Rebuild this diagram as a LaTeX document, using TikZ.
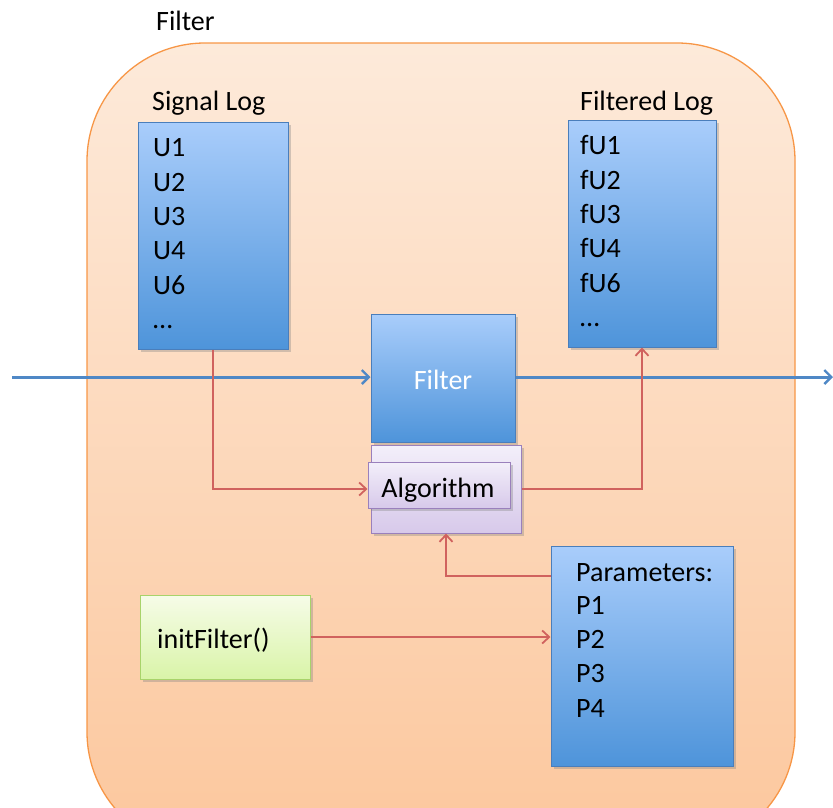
\documentclass[tikz,border=0pt]{standalone}
\usepackage{fontspec}
\setmainfont{Carlito}
\usetikzlibrary{arrows.meta,shadows,positioning}
\definecolor{bluetop}{HTML}{A9CDFB}
\definecolor{bluebot}{HTML}{4E94DA}
\definecolor{blueedge}{HTML}{4A7EBB}
\definecolor{peachtop}{HTML}{FDEADA}
\definecolor{peachbot}{HTML}{FCC79D}
\definecolor{peachedge}{HTML}{F79646}
\definecolor{redline}{HTML}{D0625E}
\definecolor{bluelineC}{HTML}{4F88C6}
\definecolor{lavtop}{HTML}{F3EFFA}
\definecolor{lavbot}{HTML}{D7C9EA}
\definecolor{lavedge}{HTML}{9A80BC}
\definecolor{greentop}{HTML}{F6FCE8}
\definecolor{greenbot}{HTML}{D9F4A8}
\definecolor{greenedge}{HTML}{A8D36A}
\tikzset{
  bigfont/.style={font=\fontsize{28}{32}\selectfont},
  txt/.style={bigfont, inner sep=0pt, anchor=base west},
  bluebox/.style={draw=blueedge, line width=1pt, top color=bluetop, bottom color=bluebot,
    drop shadow={shadow xshift=2.5pt, shadow yshift=-2.5pt, opacity=0.35}},
  lavbox/.style={draw=lavedge, line width=1pt, top color=lavtop, bottom color=lavbot,
    drop shadow={shadow xshift=2.5pt, shadow yshift=-2.5pt, opacity=0.35}},
  greenbox/.style={draw=greenedge, line width=1pt, top color=greentop, bottom color=greenbot,
    drop shadow={shadow xshift=2.5pt, shadow yshift=-2.5pt, opacity=0.35}},
  redarrow/.style={draw=redline, line width=1.4pt, -{Straight Barb[length=7pt,width=13pt,line width=1.8pt]}},
  bluearrow/.style={draw=bluelineC, line width=3pt, -{Straight Barb[length=7pt,width=14pt,line width=2.4pt]}},
}
\begin{document}
\begin{tikzpicture}[x=1pt,y=-1pt]
\useasboundingbox (0,0) rectangle (833,807);
\begin{scope}
\clip (0,0) rectangle (833,807);
\path[draw=peachedge, line width=1.3pt, top color=peachtop, bottom color=peachbot, rounded corners=118pt]
  (87,43) rectangle (795,850);
\end{scope}
\node[txt] (title) at (156,30) {Filter};
\node[txt] (siglab) at (152,110) {Signal Log};
\node[txt] (fillab) at (580,110) {Filtered Log};
% Signal Log box
\node[bluebox, minimum width=150pt, minimum height=227pt, inner sep=0pt] (sig) at (213,235.5) {};
\foreach \t/\y in {U1/156,U2/191,U3/225,U4/259,U6/294,\dots/328}
  \node[txt] at (153,\y) {\t};
% Filtered Log box
\node[bluebox, minimum width=148pt, minimum height=227pt, inner sep=0pt] (fil) at (642,233.5) {};
\foreach \t/\y in {fU1/154,fU2/189,fU3/223,fU4/257,fU6/292,\dots/326}
  \node[txt] at (580,\y) {\t};
% Filter box
\node[bluebox, minimum width=144pt, minimum height=128pt, inner sep=0pt] (filt) at (443,378) {};
\node[txt, anchor=base, text=white] (filttxt) at (443,389) {Filter};
% Algorithm
\node[lavbox, minimum width=150pt, minimum height=88pt, inner sep=0pt] (algback) at (446,489) {};
\node[lavbox, minimum width=142pt, minimum height=46pt, inner sep=0pt] (alg) at (439,485) {};
\node[txt, anchor=base] (algtxt) at (438,497) {Algorithm};
% Parameters
\node[bluebox, minimum width=182pt, minimum height=220pt, inner sep=0pt] (par) at (642,656) {};
\foreach \t/\y in {Parameters:/581,P1/614,P2/648,P3/682,P4/717}
  \node[txt] at (576,\y) {\t};
% initFilter
\node[greenbox, minimum width=170pt, minimum height=84pt, inner sep=0pt] (init) at (225,637) {};
\node[txt] (inittxt) at (157,648) {initFilter()};
% connectors
\coordinate (inL) at (12,377);
\coordinate (outR) at (833,377);
\draw[bluearrow] (inL) -- (filt.west |- inL);
\draw[bluearrow] (filt.east |- outR) -- (outR);
\draw[redarrow] (sig.south) |- (alg.west |- 0,489);
\draw[redarrow] (algback.east |- 0,489) -| (fil.south);
\draw[redarrow] (par.west |- 0,576) -| (algback.south -| 446,0);
\draw[redarrow] (init.east |- 0,637) -- (par.west |- 0,637);
\end{tikzpicture}
\end{document}
